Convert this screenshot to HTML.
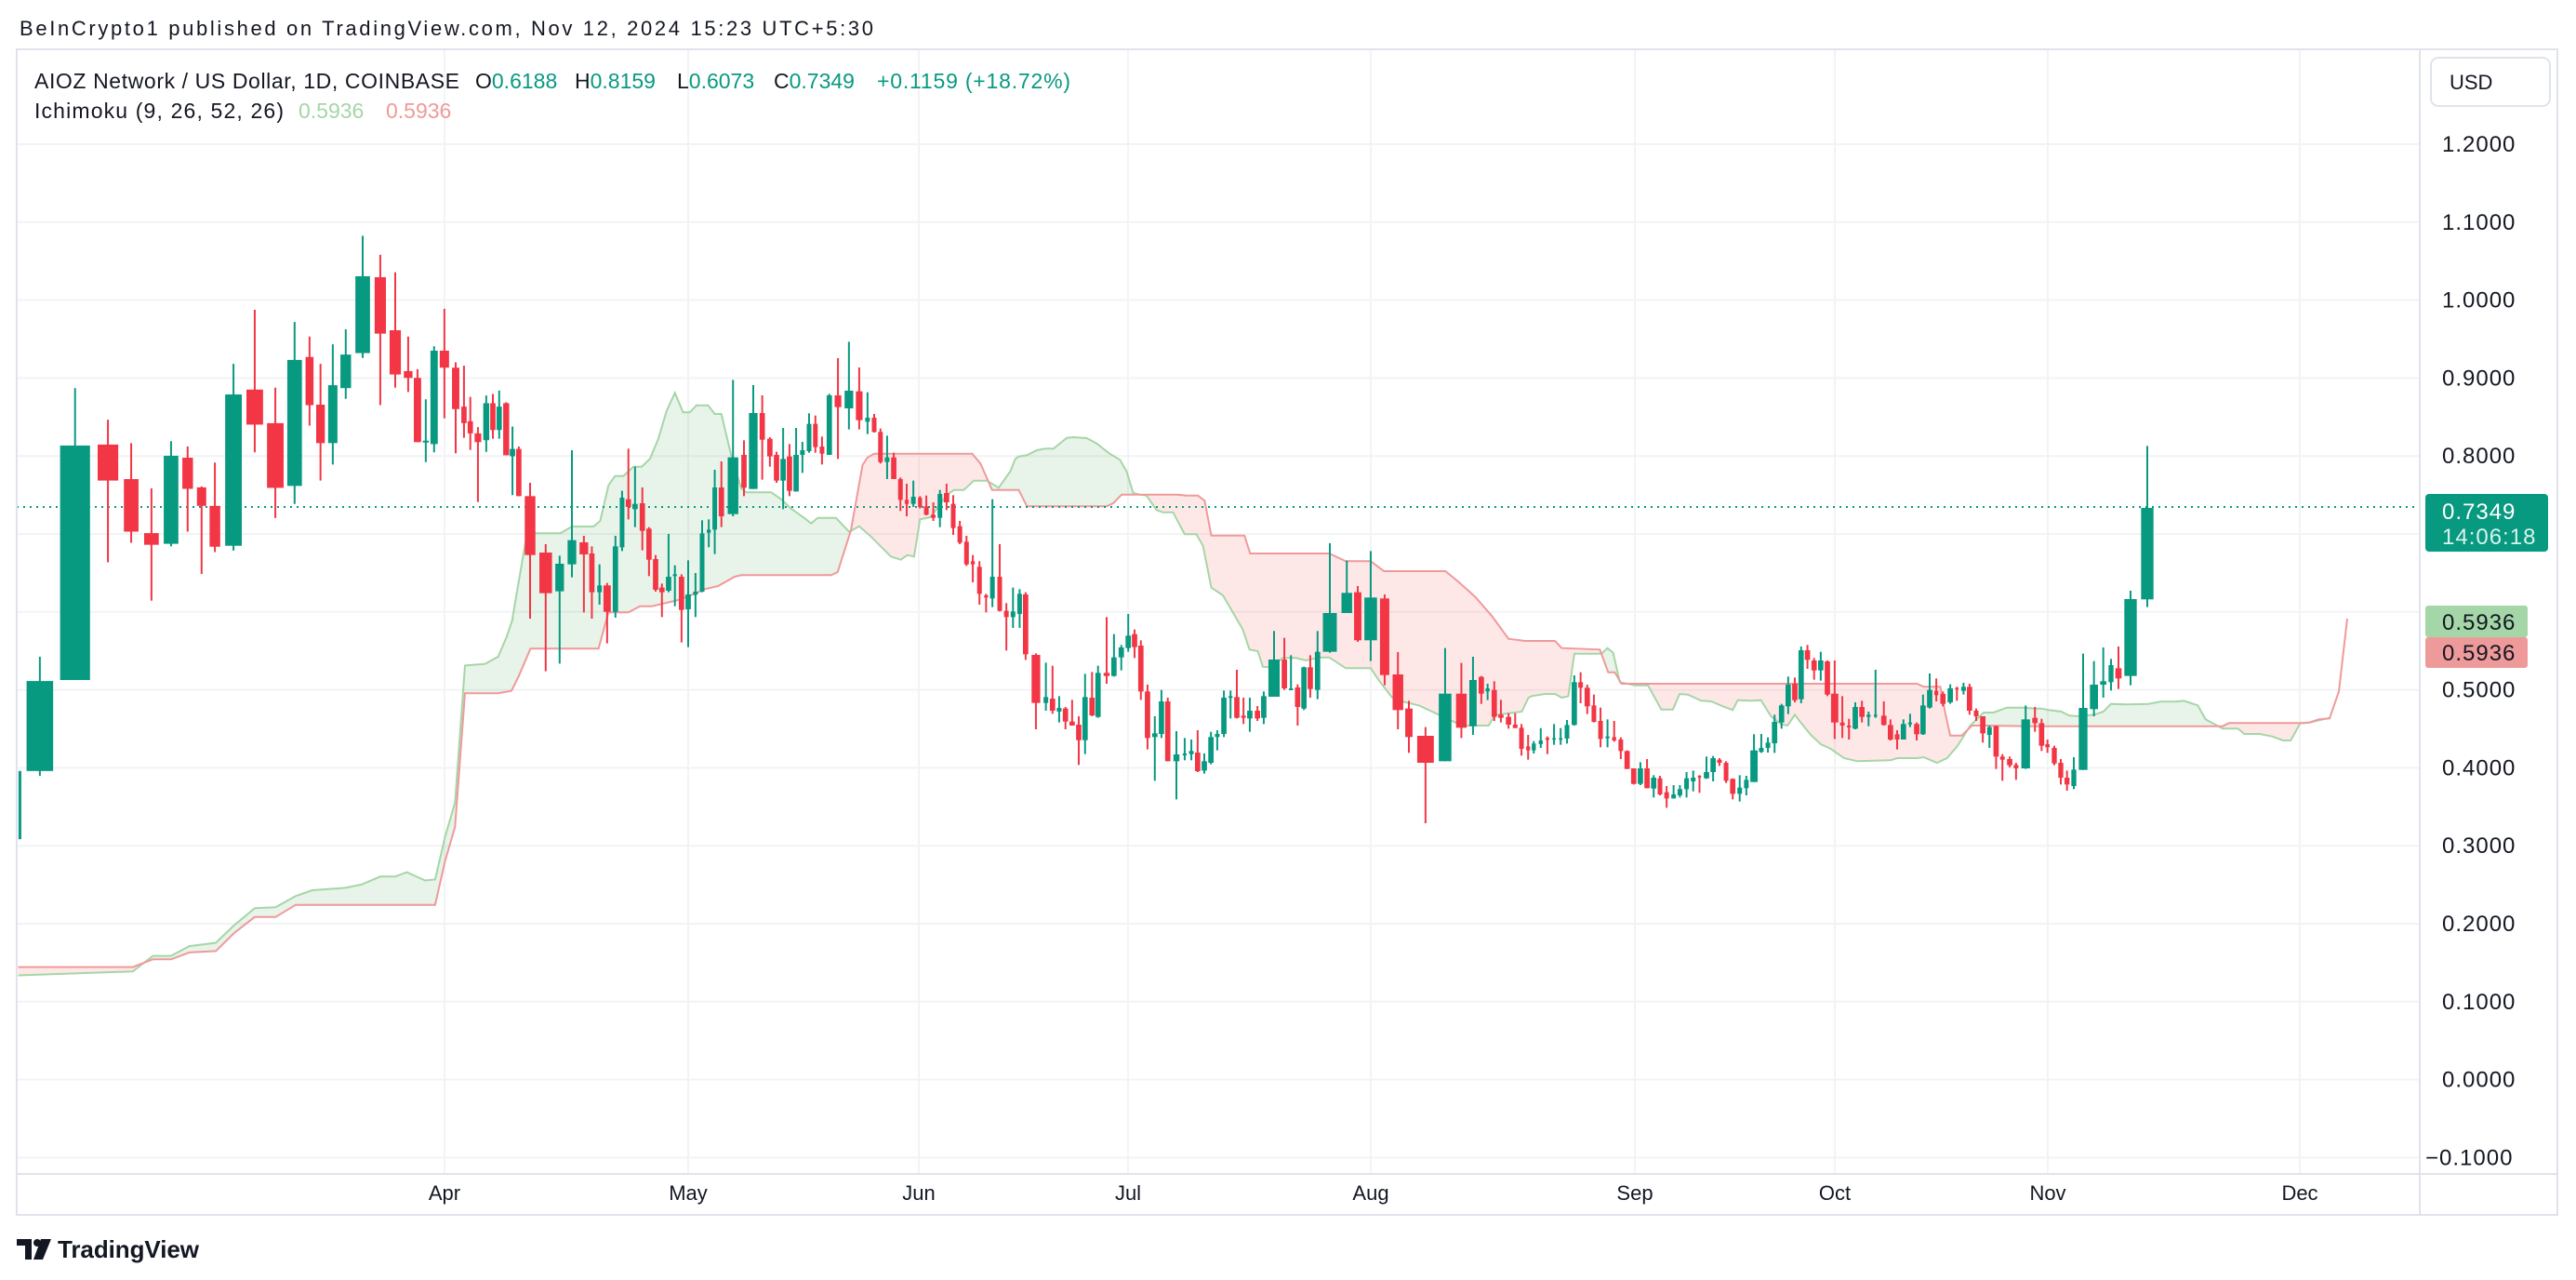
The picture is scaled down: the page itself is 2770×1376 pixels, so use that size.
<!DOCTYPE html>
<html><head><meta charset="utf-8"><style>
html,body{margin:0;padding:0;background:#fff;width:2770px;height:1376px;overflow:hidden}
svg{display:block}
text{font-family:"Liberation Sans",sans-serif}
</style></head><body>
<svg id="s" width="2770" height="1376" viewBox="0 0 2770 1376" xmlns="http://www.w3.org/2000/svg">
<rect width="2770" height="1376" fill="#fff"/>
<g id="grid"></g>
<g id="cloud"></g>
<line x1="18" y1="545" x2="2602" y2="545" stroke="#089981" stroke-width="2" stroke-dasharray="2 5"/>
<g id="candles"></g>
<rect x="18" y="53" width="2732" height="1253" fill="none" stroke="#e0e3eb" stroke-width="2"/>
<line x1="2602" y1="53" x2="2602" y2="1306" stroke="#e0e3eb" stroke-width="2"/>
<line x1="18" y1="1262" x2="2750" y2="1262" stroke="#e0e3eb" stroke-width="2"/>
<text x="21" y="38" font-size="22" fill="#131722" textLength="918">BeInCrypto1 published on TradingView.com, Nov 12, 2024 15:23 UTC+5:30</text>
<text x="37" y="95" font-size="23" fill="#131722" textLength="457">AIOZ Network / US Dollar, 1D, COINBASE</text>
<text x="511" y="95" font-size="23" fill="#131722">O<tspan fill="#089981">0.6188</tspan></text>
<text x="618" y="95" font-size="23" fill="#131722">H<tspan fill="#089981">0.8159</tspan></text>
<text x="728" y="95" font-size="23" fill="#131722">L<tspan fill="#089981">0.6073</tspan></text>
<text x="832" y="95" font-size="23" fill="#131722">C<tspan fill="#089981">0.7349</tspan></text>
<text x="943" y="95" font-size="23" fill="#089981" textLength="208">+0.1159 (+18.72%)</text>
<text x="37" y="127" font-size="23" fill="#131722" textLength="268">Ichimoku (9, 26, 52, 26)</text>
<text x="321" y="127" font-size="23" fill="#a5d6a7">0.5936</text>
<text x="415" y="127" font-size="23" fill="#ef9a9a">0.5936</text>
<rect x="2614" y="62" width="128" height="52" rx="8" fill="#fff" stroke="#e0e3eb" stroke-width="2"/>
<text x="2634" y="96" font-size="22" fill="#131722">USD</text>
<g id="prices"></g>
<rect x="2608" y="531" width="132" height="62" rx="4" fill="#089981"/>
<text x="2626" y="558" font-size="24" fill="#fff" letter-spacing="1">0.7349</text>
<text x="2626" y="585" font-size="24" fill="#d9f2ec" letter-spacing="1">14:06:18</text>
<rect x="2608" y="651" width="110" height="34" rx="3" fill="#a5d6a7"/>
<text x="2626" y="677" font-size="24" fill="#131722" letter-spacing="1">0.5936</text>
<rect x="2608" y="685" width="110" height="33" rx="3" fill="#ef9a9a"/>
<text x="2626" y="710" font-size="24" fill="#131722" letter-spacing="1">0.5936</text>
<g id="months"></g>
<path d="M18 1332 h16 v22 h-7 v-15 h-9z" fill="#131722"/>
<circle cx="40" cy="1336" r="4" fill="#131722"/>
<path d="M44 1332 h11 l-9 22 h-10z" fill="#131722"/>
<text x="62" y="1352" font-size="26" fill="#131722" font-weight="bold" textLength="152">TradingView</text>
</svg>
<script>
var NS="http://www.w3.org/2000/svg";
function el(p,t,a){var e=document.createElementNS(NS,t);for(var k in a)e.setAttribute(k,a[k]);p.appendChild(e);return e;}
function Y(v){return 155+(1.2-v)*838;}
var grid=document.getElementById('grid');
for(var v=-0.1;v<1.25;v+=0.1){var y=Y(v);el(grid,'line',{x1:18,x2:2602,y1:y,y2:y,stroke:'#f2f3f5','stroke-width':2});}
var mx={Apr:478,May:740,Jun:988,Jul:1213,Aug:1474,Sep:1758,Oct:1973,Nov:2202,Dec:2473};
var mg=document.getElementById('months');
for(var m in mx){el(grid,'line',{x1:mx[m],x2:mx[m],y1:53,y2:1262,stroke:'#f2f3f5','stroke-width':2});
 var t=el(mg,'text',{x:mx[m],y:1290,'font-size':22,fill:'#131722','text-anchor':'middle'});t.textContent=m;}
var pg=document.getElementById('prices');
[1.2,1.1,1.0,0.9,0.8,0.5,0.4,0.3,0.2,0.1,0.0,-0.1].forEach(function(v){
 var t=el(pg,'text',{x:v<0?2608:2626,y:Y(v)+8,'font-size':24,fill:'#131722','letter-spacing':1});
 t.textContent=(v<0?'\u22120.1000':v.toFixed(4));});
var Z=[
 {x0:0,y0:230,sx:2.8,sy:1.912,
  c:[[60,3,1145,1145,1285,1285,'g'],[120,40,910,960,1145,1155,'g'],[226,45,358,476,958,958,'g'],[325,31,423,474,548,716,'r'],[395,22,471,545,653,676,'r'],[456,22,564,656,680,795,'r'],[515,22,467,497,678,683,'g'],[565,16,478,501,565,653,'r'],[607,14,560,562,600,740,'r'],[647,16,511,600,684,695,'r'],[703,25,308,371,682,692,'g'],[767,25,197,361,433,490,'r'],[829,25,357,430,563,625,'r'],[887,22,222,300,559,596,'g'],[932,12,252,294,393,435,'r'],[965,13,308,392,471,548,'r'],[1002,14,268,352,471,515,'g'],[1041,16,237,289,358,380,'g'],[1092,22,45,128,286,296,'g'],[1145,17,84,130,246,393,'r'],[1190,17,120,239,330,357,'r'],[1229,13,252,323,337,366,'r'],[1257,11,319,337,469,469,'r'],[1282,9,381,466,469,510,'g'],[1307,11,272,281,473,490,'g'],[1338,14,195,281,316,420,'r'],[1372,11,305,316,401,492,'r'],[1397,8,312,396,430,460,'r'],[1416,8,376,426,451,485,'r'],[1439,10,438,451,469,592,'r'],[1464,9,373,389,465,489,'g'],[1484,8,370,389,444,462,'r'],[1503,8,363,396,444,462,'g'],[1524,9,387,389,496,496,'r'],[1543,8,437,483,498,578,'g'],[1562,8,478,483,580,580,'r']],
  g:[[55,1565],[400,1557],[460,1525],[515,1525],[570,1505],[650,1498],[705,1462],[767,1427],[830,1425],[890,1402],[940,1390],[1040,1385],[1090,1378],[1145,1362],[1190,1362],[1225,1353],[1280,1370],[1310,1368],[1340,1280],[1370,1210],[1400,928],[1460,925],[1500,910],[1525,870],[1545,830]],
  r:[[55,1548],[400,1548],[460,1532],[515,1532],[570,1518],[650,1515],[705,1478],[767,1445],[830,1445],[890,1420],[1310,1420],[1340,1330],[1370,1260],[1400,985],[1500,985],[1540,980]]},
 {x0:540,y0:340,sx:2.8,sy:3,
  c:[[84,16,537,580,770,975,'r'],[131,19,735,762,893,1145,'r'],[173,13,772,798,887,1120,'g'],[210,13,432,722,800,842,'g'],[246,13,708,729,768,955,'r'],[270,8,742,765,890,975,'r'],[293,7,800,868,890,930,'g'],[316,11,860,868,953,1055,'r'],[341,8,708,742,953,972,'g'],[361,7,563,585,745,757,'g'],[380,8,427,590,615,655,'r'],[400,8,485,605,622,680,'g'],[422,8,552,603,692,755,'r'],[442,8,680,685,785,838,'r'],[462,8,770,783,882,888,'r'],[481,8,862,875,890,970,'r'],[501,8,702,840,885,890,'g'],[520,6,803,832,835,935,'g'],[540,8,832,840,947,1052,'r'],[560,8,787,897,945,1067,'g'],[582,7,828,888,898,970,'g'],[602,7,658,700,888,890,'g'],[622,6,655,688,698,745,'g'],[640,7,495,552,688,767,'g'],[660,8,468,552,645,680,'r'],[695,16,205,455,638,645,'g'],[728,8,400,447,553,580,'r'],[756,13,222,312,557,557,'g'],[783,8,255,312,398,527,'r'],[806,8,390,395,452,485,'r'],[826,8,437,447,530,537,'r'],[846,8,360,460,530,622,'g'],[865,8,412,452,563,580,'r'],[885,8,360,447,565,565,'g'],[904,7,405,432,447,505,'g'],[924,7,313,347,435,440,'g'],[943,7,320,347,422,440,'r'],[963,7,388,420,443,478,'r'],[985,8,250,255,447,447,'g'],[1011,10,135,255,293,460,'r'],[1044,13,82,240,297,365,'g'],[1075,10,165,242,335,365,'r'],[1100,7,245,327,340,380,'g'],[1120,7,315,327,373,375,'r'],[1139,7,362,373,470,475,'r'],[1159,7,385,455,470,525,'g'],[1179,8,440,455,525,525,'r'],[1199,7,520,525,592,628,'r'],[1218,6,540,592,605,645,'r'],[1238,7,530,582,605,615,'g'],[1258,6,580,585,615,620,'r'],[1277,7,578,613,640,642,'r'],[1298,7,600,640,650,660,'r'],[1318,7,560,573,650,680,'g'],[1338,8,540,570,600,625,'r'],[1358,7,577,605,683,705,'r'],[1378,7,660,677,730,735,'r'],[1398,7,708,727,800,805,'r'],[1417,6,770,790,800,858,'r'],[1437,7,790,808,895,930,'r'],[1457,6,895,900,907,955,'r'],[1476,7,590,840,910,938,'g'],[1498,7,735,840,950,952,'r'],[1518,7,925,950,970,1078,'r'],[1538,7,875,952,970,1005,'g'],[1558,7,880,895,960,1005,'g']],
  g:[[30,980],[70,730],[100,700],[175,700],[210,678],[275,678],[295,660],[320,545],[340,515],[365,515],[395,485],[420,485],[445,460],[470,395],[495,305],[520,247],[545,310],[565,310],[585,287],[620,287],[640,315],[660,315],[690,450],[720,555],[735,568],[810,568],[840,590],[870,620],[915,655],[930,668],[950,650],[1005,650],[1045,695],[1075,677],[1110,710],[1170,775],[1200,785],[1220,770],[1240,775],[1258,655],[1290,648],[1340,575],[1360,560],[1390,560],[1420,530],[1460,530],[1495,553],[1530,500],[1545,460]],
  r:[[50,1160],[85,1072],[290,1072],[320,955],[380,955],[415,935],[450,935],[480,928],[530,915],[580,895],[610,880],[650,870],[700,840],[720,835],[990,835],[1010,825],[1050,690],[1085,480],[1100,455],[1120,443],[1415,443],[1440,475],[1475,560],[1545,560]]},
 {x0:1090,y0:460,sx:2.8,sy:3,
  c:[[36,8,530,537,730,748,'r'],[67,13,727,732,887,972,'r'],[97,7,757,868,887,912,'g'],[117,8,767,873,912,922,'r'],[137,7,865,903,915,950,'g'],[156,8,900,905,947,972,'r'],[176,8,877,947,960,960,'r'],[196,8,930,957,1007,1087,'r'],[215,8,793,868,1007,1052,'g'],[236,8,787,870,927,930,'r'],[254,8,767,790,932,935,'g'],[280,9,610,790,800,825,'r'],[302,8,665,740,800,802,'g'],[324,8,700,708,740,782,'g'],[345,8,600,670,710,722,'g'],[364,8,650,665,707,742,'r'],[383,8,685,702,850,877,'r'],[403,8,828,850,1000,1037,'r'],[425,8,930,985,997,1138,'g'],[445,8,845,882,987,1000,'g'],[464,8,870,882,1075,1075,'r'],[490,9,978,1053,1075,1198,'g'],[515,6,1000,1050,1055,1072,'g'],[535,7,1005,1042,1052,1072,'g'],[554,8,975,1047,1107,1110,'r'],[574,8,1050,1075,1105,1115,'g'],[594,8,980,997,1080,1085,'g'],[613,7,975,987,997,1040,'g'],[633,8,847,870,987,997,'g'],[653,6,847,865,868,937,'g'],[672,8,780,868,935,937,'r'],[692,7,870,928,935,955,'r'],[711,8,870,912,937,980,'g'],[734,8,897,912,937,945,'r'],[753,8,850,865,935,955,'g'],[784,17,655,747,867,867,'g'],[815,8,677,747,840,845,'r'],[835,6,733,840,843,845,'g'],[855,8,827,837,900,960,'r'],[874,8,770,772,905,910,'g'],[893,8,733,772,842,870,'r'],[915,8,655,722,845,875,'g'],[952,21,372,597,722,725,'g'],[1003,16,428,532,597,597,'g'],[1036,11,510,530,685,690,'r'],[1075,19,397,547,685,752,'g'],[1117,14,537,550,797,830,'r'],[1157,16,723,795,910,972,'r'],[1190,11,880,905,997,1048,'r'],[1240,25,965,993,1080,1275,'r'],[1299,19,710,857,1075,1075,'g'],[1348,16,758,857,967,1000,'r'],[1383,11,738,813,962,990,'g'],[1408,8,800,803,857,890,'r'],[1427,6,825,840,850,878,'g'],[1447,8,817,845,932,945,'r'],[1467,8,877,925,935,950,'r'],[1490,8,920,932,957,970,'r'],[1510,7,920,957,968,968,'r'],[1529,7,955,967,1035,1057,'r'],[1549,6,990,1027,1040,1070,'r'],[1566,6,1010,1018,1040,1050,'g']],
  g:[[15,92],[40,88],[70,72],[95,67],[120,67],[160,32],[180,30],[220,33],[250,50],[285,80],[320,103],[340,140],[360,210],[380,215],[400,218],[430,265],[450,272],[480,272],[515,343],[550,343],[570,380],[595,515],[630,540],[660,595],[690,650],[710,715],[735,720],[750,770],[770,772],[810,742],[850,742],[880,750],[920,740],[950,740],[1000,775],[1075,775],[1100,815],[1140,870],[1180,885],[1220,895],[1300,935],[1330,950],[1360,960],[1430,960],[1450,925],[1480,922],[1530,915],[1550,870]],
  r:[[15,200],[40,253],[280,253],[300,243],[325,215],[490,215],[520,218],[555,218],[575,235],[595,347],[695,347],[712,405],[950,405],[1000,430],[1075,430],[1115,462],[1300,462],[1340,497],[1390,545],[1440,607],[1490,680],[1540,687],[1550,687]]},
 {x0:1640,y0:600,sx:2.8,sy:3,
  c:[[47,6,548,588,600,612,'g'],[67,6,575,580,585,632,'r'],[87,5,535,580,582,602,'g'],[107,5,548,580,582,602,'g'],[126,7,522,538,582,598,'g'],[148,8,378,400,538,540,'g'],[167,7,368,400,418,468,'r'],[187,8,408,418,478,503,'r'],[207,7,440,475,528,530,'r'],[227,7,482,525,583,610,'r'],[248,6,520,575,578,610,'g'],[268,6,525,577,588,592,'r'],[288,7,578,585,622,648,'r'],[307,8,620,622,680,680,'r'],[327,8,678,678,728,730,'r'],[347,8,658,678,728,732,'g'],[367,8,648,678,742,742,'r'],[387,8,700,708,743,772,'g'],[406,7,702,710,762,765,'r'],[426,7,735,755,775,805,'r'],[447,7,732,762,775,775,'g'],[466,7,732,745,765,772,'g'],[486,7,690,710,745,772,'g'],[506,7,685,708,720,752,'g'],[525,5,700,702,705,757,'r'],[546,8,640,690,710,712,'g'],[566,8,638,645,690,720,'g'],[585,7,645,650,660,670,'r'],[605,7,655,660,718,725,'r'],[625,8,710,712,760,778,'r'],[646,7,700,740,760,785,'g'],[666,7,702,715,742,765,'g'],[689,11,568,620,722,722,'g'],[711,7,567,612,625,628,'g'],[731,7,578,595,612,627,'g'],[751,8,505,528,597,628,'g'],[772,8,470,475,530,550,'g'],[792,8,382,408,478,503,'g'],[812,8,385,405,458,465,'r'],[831,8,285,297,455,468,'g'],[850,8,280,297,328,357,'r'],[870,8,322,330,362,392,'r'],[890,8,302,330,362,395,'g'],[910,8,330,333,440,445,'r'],[932,11,330,437,530,583,'r'],[955,7,445,530,540,580,'r'],[975,6,518,540,545,585,'r'],[994,8,465,480,550,552,'g'],[1014,8,460,480,512,530,'r'],[1034,6,495,505,512,542,'g'],[1055,5,360,505,510,515,'g'],[1080,8,462,508,538,540,'r'],[1100,8,520,538,585,588,'r'],[1120,7,555,568,585,617,'r'],[1139,8,520,535,585,585,'g'],[1159,6,502,530,535,545,'g'],[1179,8,530,535,568,588,'r'],[1198,8,440,475,568,570,'g'],[1218,8,372,425,482,485,'g'],[1238,6,388,428,442,462,'r'],[1258,8,430,438,470,478,'r'],[1280,8,407,420,465,470,'g'],[1300,5,415,418,420,460,'r'],[1320,7,402,415,428,440,'g'],[1338,8,405,415,492,505,'r'],[1358,7,485,492,510,525,'r'],[1378,8,510,510,565,595,'r'],[1398,7,540,545,570,612,'g'],[1418,8,540,542,640,680,'r'],[1437,7,632,640,650,718,'r'],[1459,8,640,648,668,675,'r'],[1478,7,660,667,678,715,'r'],[1507,13,475,520,678,680,'g'],[1535,8,480,515,532,560,'r'],[1555,8,518,532,605,622,'r']],
  g:[[20,445],[60,438],[90,438],[110,450],[130,445],[148,308],[230,308],[248,290],[265,305],[285,400],[330,410],[370,410],[410,488],[445,488],[465,438],[490,440],[530,460],[560,462],[600,480],[625,490],[640,458],[680,460],[710,458],[740,510],[770,535],[790,540],[812,505],[830,530],[860,570],[890,600],[920,615],[960,645],[1000,655],[1100,652],[1120,645],[1180,645],[1200,642],[1240,660],[1270,645],[1300,608],[1320,575],[1340,540],[1380,498],[1410,498],[1450,482],[1500,482],[1540,485]],
  r:[[20,267],[90,267],[110,290],[225,295],[250,368],[270,368],[290,405],[1180,405],[1200,415],[1250,415],[1265,500],[1280,572],[1315,572],[1345,540],[1380,540],[1540,542]]},
 {x0:2190,y0:460,sx:3,sy:3,
  c:[[35,7,1005,1020,1030,1048,'r'],[57,8,1025,1032,1082,1088,'r'],[78,8,1068,1080,1128,1150,'r'],[98,8,1105,1128,1150,1170,'r'],[120,8,1062,1102,1155,1165,'g'],[150,14,728,903,1103,1103,'g'],[185,13,752,828,907,930,'g'],[215,10,708,817,828,870,'g'],[240,8,745,765,820,847,'g'],[264,10,705,775,808,842,'r'],[303,20,525,552,800,830,'g'],[357,20,58,258,553,578,'g']],
  g:[[15,905],[40,910],[80,915],[105,928],[140,930],[185,925],[215,915],[240,890],[290,892],[360,890],[400,883],[450,883],[475,880],[520,895],[545,940],[600,970],[650,970],[670,987],[720,987],[760,995],[795,1008],[820,1008],[850,953],[880,950],[945,935]],
  r:[[15,962],[600,962],[620,952],[850,952],[880,950],[910,940],[945,937],[975,850],[1002,615]]}
];
var G=[],R=[];
var cg=document.getElementById('candles');
Z.forEach(function(z){
 function X(a){return z.x0+a/z.sx;} function YY(a){return z.y0+a/z.sy;}
 z.g.forEach(function(p){G.push([X(p[0]),YY(p[1])]);});
 z.r.forEach(function(p){R.push([X(p[0]),YY(p[1])]);});
 z.c.forEach(function(c){
  var col=c[6]=='g'?'#089981':'#f23645';var x=X(c[0]);var w=Math.max(2*c[1]/z.sx,3);
  el(cg,'line',{x1:x,x2:x,y1:YY(c[2]),y2:YY(c[5]),stroke:col,'stroke-width':2});
  var bt=YY(c[3]),bb=YY(c[4]);if(bb-bt<2)bb=bt+2;
  el(cg,'rect',{x:x-w/2,y:bt,width:w,height:bb-bt,fill:col});
 });
});
function pts(a){return a.map(function(p){return p[0].toFixed(1)+','+p[1].toFixed(1);}).join(' ');}
var cl=document.getElementById('cloud');
var gx0=G[0][0],gx1=G[G.length-1][0],rx0=R[0][0],rx1=R[R.length-1][0];
var defs=el(cl,'defs',{});
var c1=el(defs,'clipPath',{id:'aboveR'});el(c1,'polygon',{points:rx0+',0 '+pts(R)+' '+rx1+',0'});
var c2=el(defs,'clipPath',{id:'aboveG'});el(c2,'polygon',{points:gx0+',0 '+pts(G)+' '+gx1+',0'});
el(cl,'polygon',{points:pts(G)+' '+gx1+',1376 '+gx0+',1376','fill':'rgba(67,160,71,0.12)','clip-path':'url(#aboveR)'});
el(cl,'polygon',{points:pts(R)+' '+rx1+',1376 '+rx0+',1376','fill':'rgba(244,67,54,0.12)','clip-path':'url(#aboveG)'});
el(cl,'polyline',{points:pts(G),fill:'none',stroke:'#a5d6a7','stroke-width':2});
el(cl,'polyline',{points:pts(R),fill:'none',stroke:'#ef9a9a','stroke-width':2});
</script>
</body></html>
